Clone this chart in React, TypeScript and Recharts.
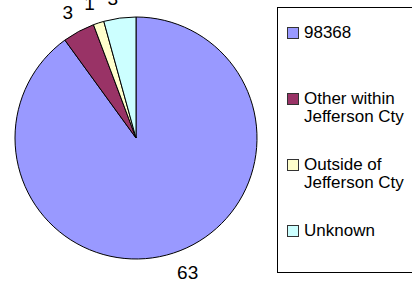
import { PieChart, Pie, Cell, Legend } from "recharts";

const names = ["98368", "Other within Jefferson Cty", "Outside of Jefferson Cty", "Unknown"];
const counts = [63, 3, 1, 3];
const COLORS = ["#9999ff", "#993366", "#ffffcc", "#ccffff"];

const data = names.map((name, i) => ({ name, value: counts[i] }));

const FONT = "'Liberation Sans', Arial, sans-serif";
const RADIAN = Math.PI / 180;
const LABEL_SIZE = 19;

// label box sits just outside the rim, pushed away on both axes like Excel does
const renderLabel = (props: any) => {
  const { cx, cy, midAngle, outerRadius, value } = props;
  const r = outerRadius + 12;
  const dx = Math.cos(-midAngle * RADIAN);
  const dy = Math.sin(-midAngle * RADIAN);
  const halfW = (String(value).length * 0.556 * LABEL_SIZE) / 2;
  const halfH = 8;
  const x = cx + r * dx + Math.sign(dx) * halfW;
  const y = cy + r * dy + Math.sign(dy) * halfH;
  return (
    <text
      x={x}
      y={y}
      fill="#000"
      textAnchor="middle"
      dominantBaseline="central"
      fontSize={LABEL_SIZE}
      fontFamily={FONT}
    >
      {value}
    </text>
  );
};

const renderLegend = (props: any) => {
  const { payload } = props;
  return (
    <div
      style={{
        position: "relative",
        width: 150,
        height: 264,
        border: "1px solid #000",
        background: "#fff",
        fontFamily: FONT,
        fontSize: 17,
        lineHeight: "18px",
        color: "#000",
      }}
    >
      {(payload || []).map((entry: any, i: number) => (
        <div
          key={entry.value}
          style={{ position: "absolute", left: 9, top: 16 + 66 * i, display: "flex" }}
        >
          <div
            style={{
              width: 10,
              height: 10,
              marginTop: 3,
              marginRight: 5,
              border: "1px solid #333",
              background: entry.color,
              flexShrink: 0,
            }}
          />
          <div style={{ width: 108 }}>{entry.value}</div>
        </div>
      ))}
    </div>
  );
};

export default function App() {
  return (
    <div
      style={{
        position: "absolute",
        left: 0,
        top: 0,
        width: 412,
        height: 286,
        overflow: "hidden",
        background: "#fff",
      }}
    >
      <PieChart width={412} height={286} margin={{ top: 0, right: 0, bottom: 0, left: 0 }}>
        <Pie
          data={data}
          dataKey="value"
          nameKey="name"
          cx={136}
          cy={138}
          outerRadius={121}
          startAngle={90}
          endAngle={-270}
          stroke="#000"
          strokeWidth={1}
          label={renderLabel}
          labelLine={false}
          isAnimationActive={false}
        >
          {data.map((d, i) => (
            <Cell key={d.name} fill={COLORS[i]} />
          ))}
        </Pie>
        <Legend
          content={renderLegend}
          wrapperStyle={{ position: "absolute", left: 277, top: 7, width: 150, height: 266 }}
        />
      </PieChart>
    </div>
  );
}
